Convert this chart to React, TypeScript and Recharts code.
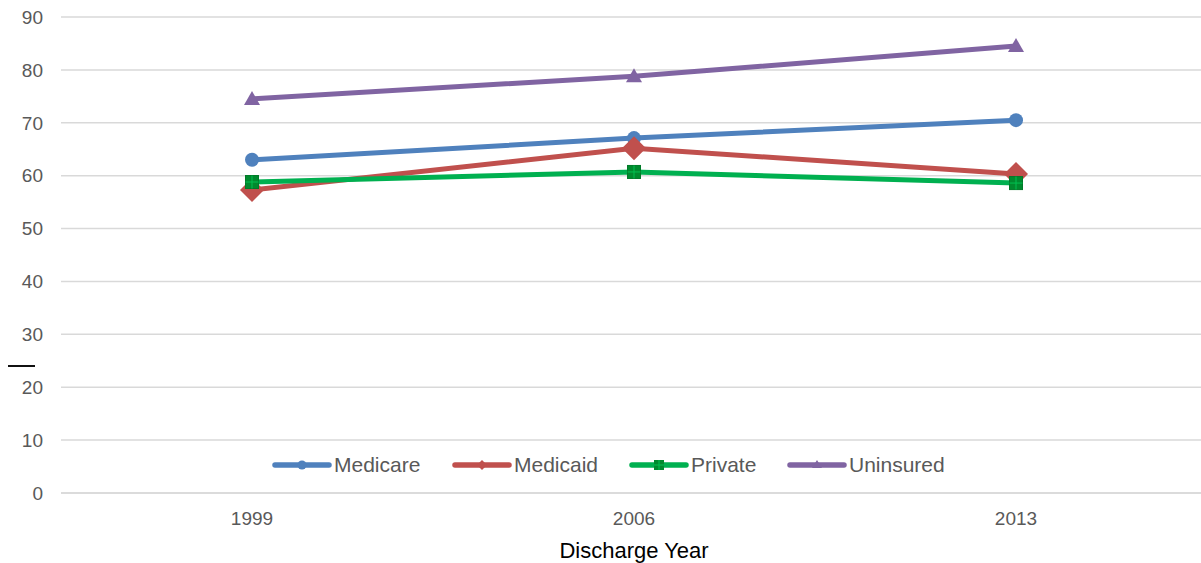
import { LineChart, Line, XAxis, YAxis, CartesianGrid } from 'recharts';

const years = ['1999', '2006', '2013'];
const medicare = [63.0, 67.1, 70.5];
const medicaid = [57.3, 65.2, 60.3];
const privateIns = [58.8, 60.7, 58.6];
const uninsured = [74.5, 78.8, 84.5];
const yTicks = [0, 10, 20, 30, 40, 50, 60, 70, 80, 90];

const data = years.map((year, i) => ({
  year,
  Medicare: medicare[i],
  Medicaid: medicaid[i],
  Private: privateIns[i],
  Uninsured: uninsured[i],
}));

const FONT = "'Liberation Sans', Arial, sans-serif";
const tickStyle = { fontSize: 19, fill: '#595959', fontFamily: FONT };

const colors = {
  Medicare: '#4f81bd',
  Medicaid: '#c0504d',
  Private: '#00b050',
  Uninsured: '#8064a2',
};

type DotProps = { cx?: number; cy?: number; key?: string };

const CircleDot = (p: DotProps) => (
  <circle key={p.key} cx={p.cx} cy={p.cy} r={7} fill={colors.Medicare} />
);

const DiamondDot = (p: DotProps) => {
  const { cx = 0, cy = 0 } = p;
  const s = 12;
  return (
    <polygon
      key={p.key}
      points={`${cx},${cy - s} ${cx + s},${cy} ${cx},${cy + s} ${cx - s},${cy}`}
      fill={colors.Medicaid}
    />
  );
};

const SquareDot = (p: DotProps) => {
  const { cx = 0, cy = 0 } = p;
  const s = 6.5;
  return (
    <g key={p.key}>
      <rect x={cx - s} y={cy - s} width={s * 2} height={s * 2} fill="#008a2e" stroke="#007a28" strokeWidth={1} />
      <line x1={cx} y1={cy - s} x2={cx} y2={cy + s} stroke="#00c050" strokeWidth={1} />
      <line x1={cx - s} y1={cy} x2={cx + s} y2={cy} stroke="#00c050" strokeWidth={1} />
    </g>
  );
};

const TriangleDot = (p: DotProps) => {
  const { cx = 0, cy = 0 } = p;
  return (
    <polygon
      key={p.key}
      points={`${cx},${cy - 8} ${cx + 8},${cy + 6} ${cx - 8},${cy + 6}`}
      fill={colors.Uninsured}
    />
  );
};

const legendItems: { name: keyof typeof colors; marker: string }[] = [
  { name: 'Medicare', marker: 'circle' },
  { name: 'Medicaid', marker: 'diamond' },
  { name: 'Private', marker: 'square' },
  { name: 'Uninsured', marker: 'triangle' },
];
const legendLeft = [272, 452, 629, 787];

function LegendIcon({ color, marker }: { color: string; marker: string }) {
  return (
    <svg width={60} height={16} style={{ display: 'block' }}>
      <line x1={3} y1={8} x2={57} y2={8} stroke={color} strokeWidth={5.5} strokeLinecap="round" />
      {marker === 'circle' && <circle cx={30} cy={8} r={4.5} fill={color} />}
      {marker === 'diamond' && <polygon points="30,3 35,8 30,13 25,8" fill={color} />}
      {marker === 'square' && (
        <g>
          <rect x={25} y={3} width={10} height={10} fill="#008a2e" />
          <line x1={30} y1={3} x2={30} y2={13} stroke="#00c050" strokeWidth={1} />
          <line x1={25} y1={8} x2={35} y2={8} stroke="#00c050" strokeWidth={1} />
        </g>
      )}
      {marker === 'triangle' && <polygon points="30,3 35,11 25,11" fill={color} />}
    </svg>
  );
}

function ChartLegend() {
  return (
    <>
      {legendItems.map((it, i) => (
        <div
          key={it.name}
          style={{
            position: 'absolute',
            left: legendLeft[i],
            top: 451,
            height: 28,
            display: 'flex',
            alignItems: 'center',
            fontFamily: FONT,
            fontSize: 21,
            color: '#595959',
            whiteSpace: 'nowrap',
          }}
        >
          <LegendIcon color={colors[it.name]} marker={it.marker} />
          <span style={{ marginLeft: 2 }}>{it.name}</span>
        </div>
      ))}
    </>
  );
}

export default function App() {
  return (
    <div style={{ position: 'absolute', left: 0, top: 0, width: 1201, height: 563, overflow: 'hidden', background: '#fff' }}>
      <LineChart width={1210} height={563} data={data} margin={{ top: 17, right: 3, bottom: 0, left: 0 }}>
        <CartesianGrid vertical={false} stroke="#d9d9d9" strokeWidth={1.5} />
        <XAxis
          dataKey="year"
          height={70}
          padding={{ left: 191, right: 191 }}
          tick={tickStyle}
          tickLine={false}
          tickSize={0}
          tickMargin={19}
          axisLine={{ stroke: '#d9d9d9', strokeWidth: 1.5 }}
          label={{ value: 'Discharge Year', position: 'insideBottom', offset: 5, fill: '#000', fontSize: 22, fontFamily: FONT }}
        />
        <YAxis
          width={61}
          domain={[0, 90]}
          ticks={yTicks}
          tick={tickStyle}
          tickLine={false}
          tickSize={0}
          tickMargin={18}
          axisLine={false}
        />
        <Line dataKey="Medicare" stroke={colors.Medicare} strokeWidth={5} dot={CircleDot} activeDot={false} isAnimationActive={false} />
        <Line dataKey="Medicaid" stroke={colors.Medicaid} strokeWidth={5} dot={DiamondDot} activeDot={false} isAnimationActive={false} />
        <Line dataKey="Private" stroke={colors.Private} strokeWidth={5} dot={SquareDot} activeDot={false} isAnimationActive={false} />
        <Line dataKey="Uninsured" stroke={colors.Uninsured} strokeWidth={5} dot={TriangleDot} activeDot={false} isAnimationActive={false} />
      </LineChart>
      <ChartLegend />
      <div style={{ position: 'absolute', left: 8, top: 365, width: 27, height: 2, background: '#111' }} />
    </div>
  );
}
